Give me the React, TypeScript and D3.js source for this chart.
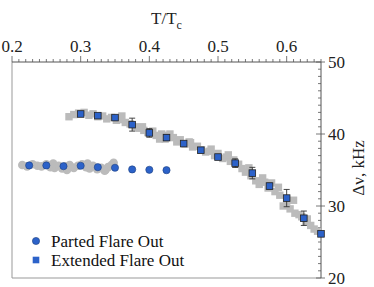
import { scaleLinear, range } from 'd3'

// T/Tc positions and Δν (kHz) values
const partedT = [0.225, 0.25, 0.275, 0.3, 0.325, 0.35, 0.375, 0.4, 0.425]
const partedV = [35.63, 35.63, 35.53, 35.59, 35.39, 35.31, 35.08, 35.03, 34.98]

const extendedT = [0.3, 0.325, 0.35, 0.375, 0.4, 0.425, 0.45, 0.475, 0.5, 0.525, 0.55, 0.575, 0.6, 0.625, 0.65]
const extendedV = [42.78, 42.55, 42.28, 41.3, 40.15, 39.5, 38.67, 37.75, 36.8, 35.95, 34.57, 32.77, 31.1, 28.3, 26.13]
const extendedErr = [0.2, 0.2, 0.2, 0.9, 0.6, 0.4, 0.2, 0.2, 0.3, 0.6, 0.8, 0.4, 1.2, 1.0, 0.2]

// gray background measurements
const grayPartedT = [0.215, 0.222, 0.23, 0.237, 0.243, 0.25, 0.256, 0.262, 0.268, 0.273, 0.278, 0.284, 0.29, 0.296, 0.302, 0.308, 0.313, 0.318, 0.324, 0.33, 0.336, 0.34, 0.345, 0.348, 0.26, 0.28, 0.31, 0.335]
const grayPartedV = [35.7, 35.5, 35.8, 35.6, 35.5, 35.8, 35.4, 35.3, 35.6, 35.2, 35.5, 35.7, 35.3, 35.6, 35.8, 35.4, 35.2, 35.6, 35.1, 35.3, 35.0, 35.4, 35.7, 36.0, 35.9, 35.0, 35.9, 34.9]

const grayExtT = [0.283, 0.29, 0.297, 0.305, 0.312, 0.318, 0.325, 0.332, 0.338, 0.345, 0.352, 0.358, 0.365, 0.372, 0.38, 0.385, 0.392, 0.398, 0.405, 0.41, 0.418, 0.423, 0.428, 0.435, 0.44, 0.445, 0.452, 0.458, 0.463, 0.47, 0.476, 0.482, 0.488, 0.495, 0.5, 0.507, 0.512, 0.518, 0.523, 0.53, 0.535, 0.54, 0.548, 0.555, 0.56, 0.568, 0.573, 0.578, 0.583, 0.59, 0.595, 0.6, 0.605, 0.612, 0.618, 0.622, 0.628, 0.635, 0.64, 0.645, 0.36, 0.39, 0.415, 0.43, 0.46, 0.49, 0.515, 0.545, 0.565, 0.588, 0.61, 0.63]
const grayExtV = [42.4, 42.7, 42.9, 43.0, 42.6, 42.8, 42.4, 42.5, 42.1, 42.3, 41.9, 42.0, 41.6, 41.4, 41.0, 40.8, 40.5, 40.2, 40.4, 39.8, 40.0, 39.3, 39.8, 39.5, 38.9, 39.2, 38.6, 38.9, 38.2, 38.3, 37.8, 37.5, 37.6, 37.0, 37.3, 36.6, 36.8, 36.2, 36.4, 35.8, 35.2, 34.7, 34.2, 33.5, 33.0, 33.3, 32.5, 33.2, 32.0, 31.5, 30.0, 30.2, 29.6, 29.0, 28.8, 28.5, 27.8, 27.3, 26.8, 26.5, 42.5, 41.0, 39.3, 40.0, 38.8, 37.9, 37.1, 35.3, 33.9, 32.6, 30.8, 28.2]

const xTicks = [0.2, 0.3, 0.4, 0.5, 0.6]
const yTicks = [20, 30, 40, 50]

const W = 374
const H = 287
const left = 12, right = 321, top = 62, bottom = 278
const txt = { fontFamily: "'Liberation Serif'", fontSize: '17px' }

export default function App() {
  const x = scaleLinear().domain([0.2, 0.65]).range([left, right])
  const y = scaleLinear().domain([20, 50]).range([bottom, top])

  const xMinor = range(20, 66).map((d) => d / 100)
  const yMinor = range(20, 51)

  const blue = '#2c62c9'
  const gray = '#bbbbbb'

  return (
    <svg width={W} height={H} style={{ position: 'absolute', left: 0, top: 0 }}>
      <line x1={left} x2={left} y1={top} y2={bottom} stroke="#999" />
      <line x1={left} x2={right} y1={bottom} y2={bottom} stroke="#999" />
      <line x1={left} x2={right} y1={top} y2={top} stroke="#555" />
      <line x1={right} x2={right} y1={top} y2={bottom} stroke="#555" />

      {xMinor.map((t, i) => {
        const major = xTicks.some((m) => Math.abs(m - t) < 1e-6)
        return <line key={'xm' + i} x1={x(t)} x2={x(t)} y1={top - (major ? 6 : 3)} y2={top} stroke="#555" strokeWidth={0.8} />
      })}
      {yMinor.map((v) => {
        const major = yTicks.includes(v)
        return <line key={'ym' + v} x1={right - (major ? 5 : 3)} x2={right + (major ? 4 : 0)} y1={y(v)} y2={y(v)} stroke="#555" strokeWidth={0.8} />
      })}

      {xTicks.map((t) => (
        <text key={'xt' + t} x={x(t)} y={52} textAnchor="middle" fill="#222" style={txt}>
          {t.toFixed(1)}
        </text>
      ))}
      <text x={(left + right) / 2} y={24} textAnchor="middle" fill="#222" style={txt}>
        T/T<tspan dy={5} style={{ fontSize: '12px' }}>c</tspan>
      </text>
      {yTicks.map((v) => (
        <text key={'yt' + v} x={328} y={y(v) + 6} fill="#222" style={txt}>
          {v}
        </text>
      ))}
      <text transform="translate(364,168) rotate(-90)" textAnchor="middle" fill="#222" style={txt}>
        Δν, kHz
      </text>

      {grayPartedT.map((t, i) => (
        <circle key={'gp' + i} cx={x(t)} cy={y(grayPartedV[i])} r={4.3} fill={gray} />
      ))}
      {grayExtT.map((t, i) => (
        <rect key={'ge' + i} x={x(t) - 3.7} y={y(grayExtV[i]) - 3.7} width={7.4} height={7.4} fill={gray} />
      ))}

      {extendedT.map((t, i) => {
        const e = extendedErr[i]
        if (e < 0.35) return null
        const cx = x(t)
        const y1 = y(extendedV[i] + e)
        const y2 = y(extendedV[i] - e)
        return (
          <g key={'eb' + i} stroke="#333" strokeWidth={0.9}>
            <line x1={cx} x2={cx} y1={y1} y2={y2} />
            <line x1={cx - 3} x2={cx + 3} y1={y1} y2={y1} />
            <line x1={cx - 3} x2={cx + 3} y1={y2} y2={y2} />
          </g>
        )
      })}

      {partedT.map((t, i) => (
        <circle key={'p' + i} cx={x(t)} cy={y(partedV[i])} r={3.6} fill={blue} stroke="#1d3f80" strokeWidth={0.6} />
      ))}
      {extendedT.map((t, i) => (
        <rect key={'e' + i} x={x(t) - 3.3} y={y(extendedV[i]) - 3.3} width={6.6} height={6.6} fill={blue} stroke="#222" strokeWidth={0.8} />
      ))}

      <circle cx={36} cy={241} r={3.6} fill={blue} stroke="#1d3f80" strokeWidth={0.6} />
      <rect x={32.7} y={256.7} width={6.6} height={6.6} fill={blue} />
      <text x={51} y={247} fill="#111" style={txt}>Parted Flare Out</text>
      <text x={51} y={266} fill="#111" style={txt}>Extended Flare Out</text>
    </svg>
  )
}
